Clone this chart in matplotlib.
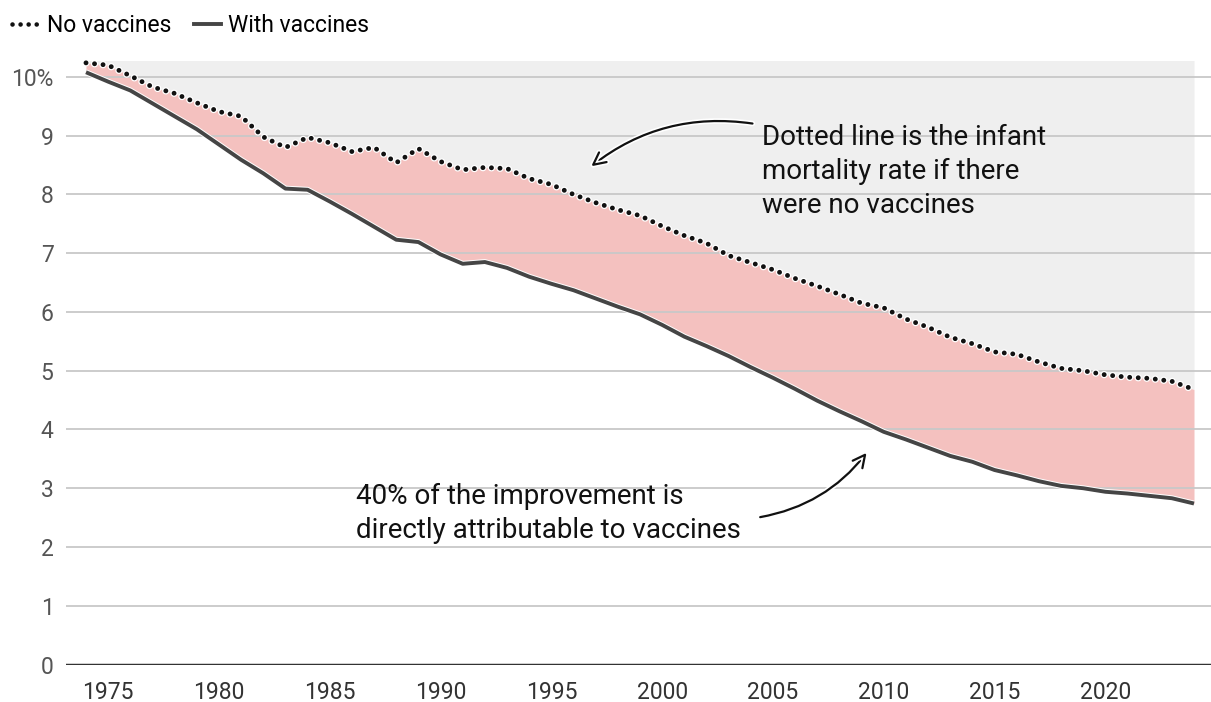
import matplotlib
matplotlib.use("Agg")
import matplotlib.pyplot as plt
import matplotlib.patheffects as pe
from matplotlib.lines import Line2D

plt.rcParams['font.family'] = ['Roboto', 'DejaVu Sans']

years = list(range(1974, 2025))
# infant mortality rate (%) with and without vaccines
with_vaccines = [10.08, 9.92, 9.77, 9.55, 9.33, 9.11, 8.85, 8.59, 8.36, 8.10,
                 8.08, 7.88, 7.67, 7.45, 7.23, 7.19, 6.98, 6.82, 6.85, 6.75,
                 6.60, 6.48, 6.37, 6.23, 6.09, 5.96, 5.78, 5.58, 5.42, 5.25,
                 5.06, 4.88, 4.69, 4.49, 4.31, 4.14, 3.96, 3.83, 3.69, 3.55,
                 3.45, 3.31, 3.22, 3.12, 3.04, 3.00, 2.94, 2.91, 2.87, 2.83,
                 2.74]
no_vaccines = [10.24, 10.20, 10.02, 9.83, 9.72, 9.56, 9.41, 9.33, 8.98, 8.80,
               8.97, 8.88, 8.73, 8.80, 8.54, 8.78, 8.56, 8.42, 8.46, 8.44,
               8.27, 8.17, 8.00, 7.86, 7.74, 7.64, 7.46, 7.30, 7.17, 6.96,
               6.84, 6.72, 6.57, 6.44, 6.30, 6.15, 6.07, 5.88, 5.74, 5.57,
               5.46, 5.32, 5.28, 5.15, 5.04, 5.00, 4.93, 4.89, 4.87, 4.82,
               4.68]
y_ticks = [0, 1, 2, 3, 4, 5, 6, 7, 8, 9, 10]
y_labels = ["0", "1", "2", "3", "4", "5", "6", "7", "8", "9", "10%"]
x_ticks = [1975, 1980, 1985, 1990, 1995, 2000, 2005, 2010, 2015, 2020]

top = 10.28

fig = plt.figure(figsize=(12.11, 7.02), dpi=100)
ax = fig.add_axes([66 / 1211, 1 - 664.5 / 702, 1 - 66 / 1211, (664.5 - 60.5) / 702])

ax.fill_between(years, no_vaccines, top, color="#efefef", lw=0, zorder=1)
ax.fill_between(years, with_vaccines, no_vaccines, color="#f4c1bf", lw=0, zorder=1)

for t in y_ticks[1:]:
    ax.axhline(t, color="#c8c8c8", lw=1.3, zorder=2)
ax.axhline(0, color="#333333", lw=2.5, zorder=3)

ax.plot(years, with_vaccines, color="#454545", lw=2.8, solid_capstyle="butt", zorder=4,
        path_effects=[pe.Stroke(linewidth=4.2, foreground="white"), pe.Normal()])
ax.plot(years, no_vaccines, color="#111111", lw=3.5, linestyle=(0, (0.01, 1.75)),
        dash_capstyle="round", zorder=5, clip_on=False,
        path_effects=[pe.Stroke(linewidth=5.3, foreground="white"), pe.Normal()])

ax.set_xlim(1974 - 20 / 22.16, 2024 + 17 / 22.16)
ax.set_ylim(0, top)
ax.set_yticks(y_ticks)
ax.set_yticklabels(y_labels, fontsize=16.5, color="#555555")
ax.set_xticks(x_ticks)
ax.set_xticklabels([str(x) for x in x_ticks], fontsize=16.5, color="#333333")
ax.tick_params(axis="both", length=0)
ax.tick_params(axis="y", pad=9)
ax.tick_params(axis="x", pad=12)
for s in ax.spines.values():
    s.set_visible(False)

halo = [pe.withStroke(linewidth=4, foreground="white")]
ax.text(2004.5, 8.39, "Dotted line is the infant\nmortality rate if there\nwere no vaccines",
        fontsize=20, color="#111111", va="center", ha="left", linespacing=1.32, zorder=6)
ax.annotate("", xy=(1996.7, 8.45), xytext=(2004.2, 9.2),
            arrowprops=dict(arrowstyle="->", color="#111111", lw=1.6, mutation_scale=22,
                            connectionstyle="arc3,rad=0.22", path_effects=halo), zorder=6)
ax.text(1986.2, 2.57, "40% of the improvement is\ndirectly attributable to vaccines",
        fontsize=20, color="#111111", va="center", ha="left", linespacing=1.3, zorder=6)
ax.annotate("", xy=(2009.3, 3.64), xytext=(2004.3, 2.5),
            arrowprops=dict(arrowstyle="->", color="#111111", lw=1.6, mutation_scale=22,
                            connectionstyle="arc3,rad=0.2", path_effects=halo), zorder=6)

handles = [Line2D([], [], color="#111111", lw=3.3, linestyle=(0, (0.01, 1.75)), dash_capstyle="round"),
           Line2D([], [], color="#454545", lw=2.8)]
fig.legend(handles, ["No vaccines", "With vaccines"], loc="upper left",
           bbox_to_anchor=(-0.007, 1.01), ncol=2, frameon=False, fontsize=16.5,
           handlelength=1.2, handletextpad=0.3, columnspacing=1.0)

fig.savefig("out.png", dpi=100, facecolor="white")
